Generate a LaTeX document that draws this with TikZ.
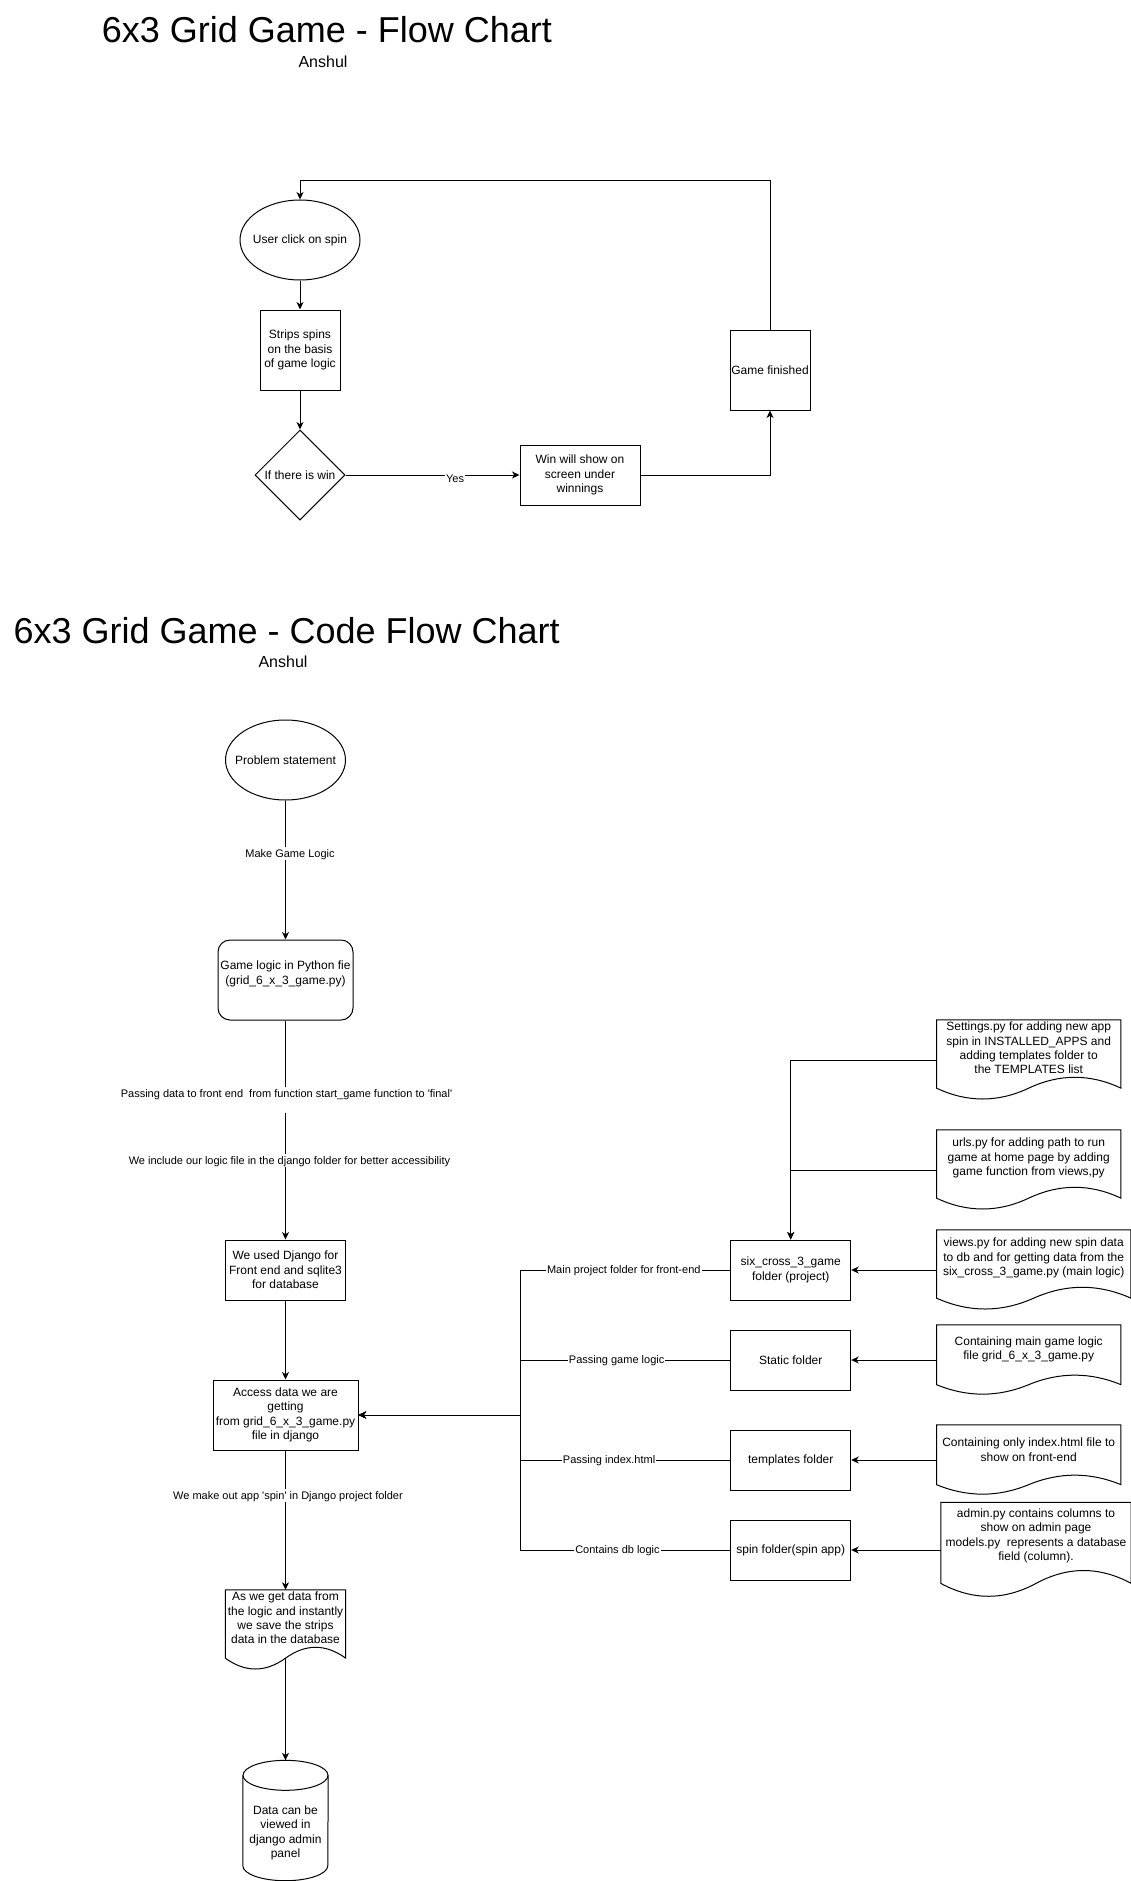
\documentclass[tikz,border=0pt]{standalone}
\usepackage{fontspec}
\setmainfont{Liberation Sans}[Ligatures=TeXOff]
\usetikzlibrary{shapes.geometric,arrows.meta,calc}

\begin{document}
\begin{tikzpicture}[
    x=1pt,y=1pt,
    font=\fontsize{12}{14.4}\selectfont,
    box/.style={draw,line width=1pt,rectangle,inner sep=0pt,align=center},
    ell/.style={draw,line width=1pt,ellipse,inner sep=0pt,minimum width=120pt,minimum height=80pt},
    doc/.style={rectangle,inner sep=0pt,minimum width=184pt},
    doctext/.style={inner sep=0pt,align=center},
    elabel/.style={fill=white,inner xsep=1pt,inner ysep=0pt,text height=10.4pt,text depth=2.8pt,
      font=\fontsize{11}{13.2}\selectfont},
    conn/.style={line width=1pt},
    arr/.style={line width=1pt,-{Stealth[length=7.5pt,width=7pt,inset=2.2pt]}}
    ]
  \useasboundingbox (0,0) rectangle (1131,-1881);

  % titles
  \node[anchor=base west,inner sep=0pt,font=\fontsize{36}{43}\selectfont] (title1) at (101.7,-42.7) {6x3 Grid Game - Flow Chart};
  \node[anchor=base,inner sep=0pt,font=\fontsize{16}{19}\selectfont] (author1) at (323,-67.7) {Anshul};
  \node[anchor=base west,inner sep=0pt,font=\fontsize{36}{43}\selectfont] (title2) at (13.4,-643) {6x3 Grid Game - Code Flow Chart};
  \node[anchor=base,inner sep=0pt,font=\fontsize{16}{19}\selectfont] (author2) at (283,-667) {Anshul};

  % flow chart
  \node[ell] (click) at (300,-240) {\makebox[0pt]{User click on spin}};
  \node[box,minimum width=80pt,minimum height=80pt] (strips) at (300,-350) {Strips spins\\on the basis\\of game logic};
  \node[draw,line width=1pt,diamond,aspect=1,inner sep=0pt,minimum width=90pt,minimum height=90pt] (win) at (300,-475) {If there is win};
  \node[box,minimum width=120pt,minimum height=60pt] (show) at (580,-475) {Win will show on\\screen under\\winnings};
  \node[box,minimum width=80pt,minimum height=80pt] (finished) at (770,-370) {Game finished};
  \coordinate (loop) at (300,-181);

  \draw[arr] (click) -- (strips);
  \draw[arr] (strips) -- (win);
  \draw[arr] (win) -- node[elabel,pos=0.63,yshift=-3.5pt] (yes) {Yes} (show);
  \draw[arr] (show) -| (finished);
  \draw[arr] (finished) |- (loop) -- (click);

  % code flow chart, left column
  \node[ell] (problem) at (285.5,-760) {\makebox[0pt]{Problem statement}};
  \node[box,rounded corners=12pt,minimum width=135pt,minimum height=80pt] (logic) at (285.5,-980) {Game logic in Python fie\\(grid\_6\_x\_3\_game.py)\\\mbox{}};
  \node[box,minimum width=120pt,minimum height=60pt] (django) at (285.5,-1270) {We used Django for\\Front end and sqlite3\\for database};
  \node[box,minimum width=145pt,minimum height=70pt] (access) at (285.5,-1415) {Access data we are\\getting\\from grid\_6\_x\_3\_game.py\\file in django};
  \node[doc,minimum width=120pt,minimum height=80pt] (savedb) at (285.5,-1630) {};
  \node[doctext] (savedbtext) at ([yshift=12pt]savedb.center) {As we get data from\\the logic and instantly\\we save the strips\\data in the database};
  \node[rectangle,inner sep=0pt,minimum width=85pt,minimum height=120pt] (viewdb) at (285.5,-1820.5) {};
  \node[doctext] (viewdbtext) at ([yshift=-12.5pt]viewdb.center) {Data can be\\viewed in\\django admin\\panel};

  \draw[conn] ([yshift=-15pt]viewdb.north) ellipse [x radius=42.5pt,y radius=15pt];
  \draw[conn] ([yshift=-15pt]viewdb.north west) -- ([yshift=15pt]viewdb.south west)
    arc [start angle=180,end angle=360,x radius=42.5pt,y radius=15pt] -- ([yshift=-15pt]viewdb.north east);

  \draw[arr] (problem) -- node[elabel,pos=0.38,xshift=4.5pt] (makelbl) {Make Game Logic} (logic);
  \draw[arr] (logic) -- node[elabel,pos=0.364,xshift=1pt,text depth=16pt] (passlbl) {Passing data to front end\ \ from function start\_game function to 'final'}
    node[elabel,pos=0.638,xshift=4pt] (includelbl) {We include our logic file in the django folder for better accessibility} (django);
  \draw[arr] (django) -- (access);
  \draw[arr] (access) -- node[elabel,pos=0.324,xshift=2.5pt] (applbl) {We make out app 'spin' in Django project folder} (savedb);
  \draw[arr] ([yshift=12pt]savedb.south) -- (viewdb);

  % code flow chart, folders
  \node[box,minimum width=120pt,minimum height=60pt] (project) at (790.7,-1270) {six\_cross\_3\_game\\folder (project)};
  \node[box,minimum width=120pt,minimum height=60pt] (static) at (790.7,-1360) {Static folder};
  \node[box,minimum width=120pt,minimum height=60pt] (templates) at (790.7,-1460) {templates folder};
  \node[box,minimum width=120pt,minimum height=60pt] (spinapp) at (790.7,-1550) {spin folder(spin app)};
  \coordinate (hub) at (520.3,-1415);

  \draw[arr] (project.west) -- node[elabel,pos=0.507] (mainlbl) {Main project folder for front-end} (project.west -| hub) |- (access.east);
  \draw[arr] (static.west) -- node[elabel,pos=0.541] (gamelbl) {Passing game logic} (static.west -| hub) |- (access.east);
  \draw[arr] (templates.west) -- node[elabel,pos=0.577] (indexlbl) {Passing index.html} (templates.west -| hub) |- (access.east);
  \draw[arr] (spinapp.west) -- node[elabel,pos=0.537] (dblbl) {Contains db logic} (spinapp.west -| hub) |- (access.east);

  % code flow chart, files
  \node[doc,minimum height=80pt] (settings) at (1028.7,-1060) {};
  \node[doctext] (settingstext) at ([yshift=12pt]settings.center) {Settings.py for adding new app\\spin in INSTALLED\_APPS and\\adding templates folder to\\the TEMPLATES list};
  \node[doc,minimum height=80pt] (urls) at (1028.7,-1170) {};
  \node[doctext] (urlstext) at ([yshift=12pt]urls.center) {urls.py for adding path to run\\game at home page by adding\\game function from views,py};
  \node[doc,minimum width=194pt,minimum height=80pt] (views) at (1033.7,-1270) {};
  \node[doctext] (viewstext) at ([yshift=12pt]views.center) {views.py for adding new spin data\\to db and for getting data from the\\six\_cross\_3\_game.py (main logic)};
  \node[doc,minimum height=70pt] (mainlogic) at (1028.7,-1360) {};
  \node[doctext] (mainlogictext) at ([yshift=10.5pt]mainlogic.center) {Containing main game logic\\file grid\_6\_x\_3\_game.py};
  \node[doc,minimum height=70pt] (indexhtml) at (1028.7,-1460) {};
  \node[doctext] (indexhtmltext) at ([yshift=10.5pt]indexhtml.center) {Containing only index.html file to\\show on front-end};
  \node[doc,minimum width=190pt,minimum height=95pt] (adminpy) at (1036,-1550) {};
  \node[doctext] (adminpytext) at ([yshift=14pt]adminpy.center) {admin.py contains columns to\\show on admin page\\models.py\ \ represents a database\\field (column).};

  \foreach \docname in {settings,urls,views,mainlogic,indexhtml,adminpy,savedb}
    \draw[conn] let \p1=(\docname.south west), \p2=(\docname.north east),
        \n1={\x2-\x1}, \n2={\y2-\y1} in
      (\x1,\y2) -- (\x2,\y2) -- (\x2,{\y1+0.15*\n2})
      .. controls ({\x1+0.8333*\n1},{\y1+0.33*\n2}) and ({\x1+0.6667*\n1},{\y1+0.33*\n2}) .. ({\x1+0.5*\n1},{\y1+0.15*\n2})
      .. controls ({\x1+0.3333*\n1},{\y1-0.03*\n2}) and ({\x1+0.1667*\n1},{\y1-0.03*\n2}) .. (\x1,{\y1+0.15*\n2})
      -- cycle;

  \draw[arr] (settings.west) -| (project.north);
  \draw[arr] (urls.west) -| (project.north);
  \draw[arr] (views.west) -- (project.east);
  \draw[arr] (mainlogic.west) -- (static.east);
  \draw[arr] (indexhtml.west) -- (templates.east);
  \draw[arr] (adminpy.west) -- (spinapp.east);
\end{tikzpicture}
\end{document}
